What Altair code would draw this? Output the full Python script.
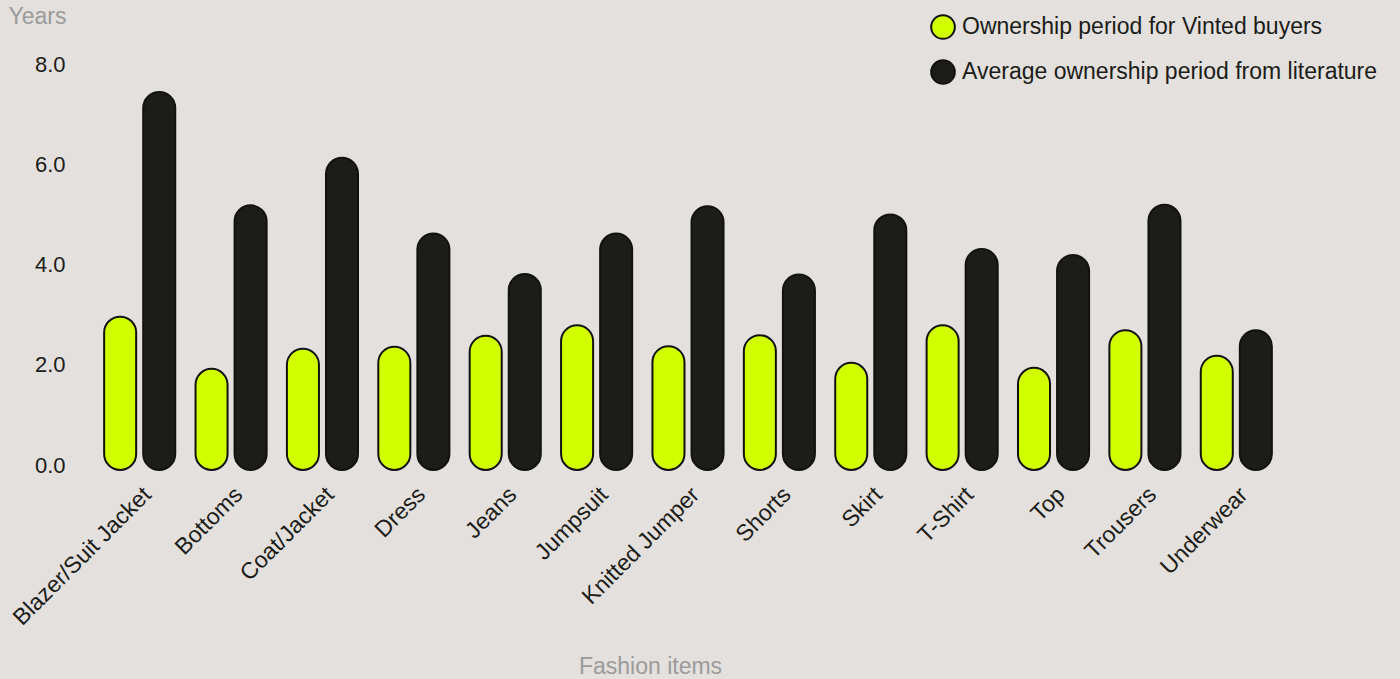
import altair as alt
import pandas as pd

# Fashion item categories and the two ownership-period series (years)
items = [
    "Blazer/Suit Jacket", "Bottoms", "Coat/Jacket", "Dress", "Jeans", "Jumpsuit",
    "Knitted Jumper", "Shorts", "Skirt", "T-Shirt", "Top", "Trousers", "Underwear",
]
vinted_years = [2.96, 1.92, 2.32, 2.36, 2.58, 2.79, 2.37, 2.59, 2.04, 2.79, 1.94, 2.69, 2.18]
literature_years = [7.44, 5.18, 6.13, 4.62, 3.81, 4.62, 5.16, 3.80, 5.00, 4.31, 4.19, 5.19, 2.69]

series = [
    "Ownership period for Vinted buyers",
    "Average ownership period from literature",
]
colors = ["#d2ff00", "#1c1c18"]

rows = []
for item, v, lit in zip(items, vinted_years, literature_years):
    rows.append({"item": item, "series": series[0], "years": v})
    rows.append({"item": item, "series": series[1], "years": lit})
df = pd.DataFrame(rows)

font = "Liberation Sans"
ink = "#1c1c18"
muted = "#9b9b9b"

chart = (
    alt.Chart(df)
    .mark_bar(cornerRadius=16, stroke="#121210", strokeWidth=2, y2Offset=5)
    .encode(
        x=alt.X(
            "item:N",
            sort=items,
            title="Fashion items",
            scale=alt.Scale(paddingInner=0.222, paddingOuter=0.111),
            axis=alt.Axis(
                labelAngle=-45,
                labelFont=font,
                labelFontSize=23,
                labelColor=ink,
                labelPadding=18,
                labelLimit=400,
                domain=False,
                ticks=False,
                titleFont=font,
                titleFontSize=23,
                titleFontWeight="normal",
                titleColor=muted,
                titleX=556,
                titleY=201,
                titleAlign="center",
                titleBaseline="middle",
            ),
        ),
        xOffset=alt.XOffset(
            "series:N", sort=series,
            scale=alt.Scale(paddingInner=0.18, paddingOuter=0),
        ),
        y=alt.Y(
            "years:Q",
            title="Years",
            stack=None,
            scale=alt.Scale(domain=[0, 8], nice=False),
            axis=alt.Axis(
                values=[0, 2, 4, 6, 8],
                format=".1f",
                labelFont=font,
                labelFontSize=22,
                labelColor=ink,
                labelPadding=29,
                domain=False,
                ticks=False,
                grid=False,
                titleFont=font,
                titleFontSize=23,
                titleFontWeight="normal",
                titleColor=muted,
                titleAngle=0,
                titleX=-86,
                titleY=-48,
                titleAlign="left",
                titleBaseline="middle",
            ),
        ),
        y2=alt.Y2(datum=0),
        color=alt.Color(
            "series:N",
            sort=series,
            scale=alt.Scale(domain=series, range=colors),
            legend=alt.Legend(
                title=None,
                orient="none",
                legendX=836,
                legendY=-50,
                padding=0,
                symbolType="circle",
                symbolSize=560,
                symbolStrokeColor="#121210",
                symbolStrokeWidth=2,
                labelFont=font,
                labelFontSize=23,
                labelColor=ink,
                labelOffset=6,
                labelLimit=600,
                rowPadding=13,
            ),
        ),
    )
    .properties(
        width=1188,
        height=401,
        background="#e3e0dd",
        autosize=alt.AutoSizeParams(type="none"),
        padding={"left": 94, "top": 64, "right": 118, "bottom": 214},
    )
    .configure_view(stroke=None)
)

chart.save("out.html", embed_options={"renderer": "svg", "actions": False})
